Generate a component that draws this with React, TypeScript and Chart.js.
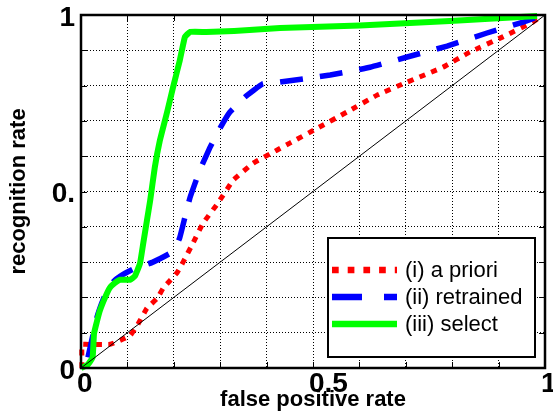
import React, { useEffect, useRef } from 'react';
import { Chart, registerables } from 'chart.js';

Chart.register(...registerables);

const LABELS = ['(i) a priori', '(ii) retrained', '(iii) select'];
const X_TITLE = 'false positive rate';
const Y_TITLE = 'recognition rate';

const APRIORI_X = [0.002, 0.002, 0.01, 0.063, 0.084, 0.106, 0.121, 0.142, 0.164, 0.177, 0.192, 0.207, 0.22, 0.241, 0.263, 0.295, 0.328, 0.371, 0.422, 0.45, 0.509, 0.573, 0.638, 0.703, 0.78, 0.838, 0.909, 0.974, 0.985];
const APRIORI_Y = [0, 0.067, 0.067, 0.067, 0.078, 0.092, 0.12, 0.169, 0.197, 0.226, 0.248, 0.27, 0.3, 0.353, 0.41, 0.467, 0.532, 0.58, 0.617, 0.637, 0.679, 0.725, 0.773, 0.81, 0.852, 0.895, 0.938, 0.98, 0.99];

const RETRAINED_X = [0.015, 0.025, 0.034, 0.045, 0.056, 0.07, 0.084, 0.112, 0.155, 0.192, 0.205, 0.213, 0.224, 0.235, 0.256, 0.278, 0.3, 0.321, 0.353, 0.392, 0.429, 0.537, 0.623, 0.703, 0.789, 0.875, 0.953, 0.983];
const RETRAINED_Y = [0.03, 0.09, 0.142, 0.185, 0.22, 0.245, 0.26, 0.28, 0.3, 0.325, 0.345, 0.37, 0.427, 0.483, 0.56, 0.625, 0.68, 0.725, 0.767, 0.805, 0.81, 0.83, 0.852, 0.881, 0.912, 0.949, 0.98, 0.994];

const SELECT_X = [0, 0.015, 0.025, 0.028, 0.034, 0.04, 0.052, 0.062, 0.073, 0.084, 0.106, 0.116, 0.127, 0.134, 0.142, 0.149, 0.159, 0.17, 0.185, 0.198, 0.213, 0.224, 0.235, 0.27, 0.33, 0.429, 0.601, 0.795, 0.983];
const SELECT_Y = [0, 0.01, 0.03, 0.097, 0.13, 0.16, 0.2, 0.227, 0.241, 0.25, 0.25, 0.26, 0.295, 0.352, 0.417, 0.474, 0.568, 0.645, 0.722, 0.793, 0.872, 0.938, 0.952, 0.952, 0.955, 0.963, 0.97, 0.983, 0.997];

const CHANCE_X = [0, 1];
const CHANCE_Y = [0, 1];

const X_TICK_LABELS: Record<string, string> = { '0': '0', '0.5': '0.5', '1': '1' };
const Y_TICK_LABELS: Record<string, string> = { '0': '0', '0.5': '0.', '1': '1' };

const FONT = '"Liberation Sans", Arial, Helvetica, sans-serif';
const LEGEND_DASH = [[6.7, 9], [30, 22], []];

const pts = (xs: number[], ys: number[]) => xs.map((x, i) => ({ x, y: ys[i] }));

const tickLabel = (map: Record<string, string>) => (v: number | string) => {
  const n = Number(v);
  const key = Object.keys(map).find((k) => Math.abs(Number(k) - n) < 1e-9);
  return key !== undefined ? map[key] : '';
};

const framePlugin = {
  id: 'matlabFrame',
  afterDatasetsDraw(chart: any) {
    const { ctx, chartArea, scales } = chart;
    const { left, right, top, bottom } = chartArea;
    const xs = scales.x;
    const ys = scales.y;
    ctx.save();
    ctx.strokeStyle = '#000';
    ctx.lineWidth = 1;
    ctx.setLineDash([]);
    ctx.beginPath();
    xs.ticks.forEach((t: any) => {
      const px = Math.round(xs.getPixelForValue(t.value)) + 0.5;
      ctx.moveTo(px, bottom);
      ctx.lineTo(px, bottom - 6);
      ctx.moveTo(px, top);
      ctx.lineTo(px, top + 6);
    });
    ys.ticks.forEach((t: any) => {
      const py = Math.round(ys.getPixelForValue(t.value)) + 0.5;
      ctx.moveTo(left, py);
      ctx.lineTo(left + 6, py);
      ctx.moveTo(right, py);
      ctx.lineTo(right - 6, py);
    });
    ctx.stroke();
    ctx.lineWidth = 2.5;
    ctx.strokeRect(left, top, right - left, bottom - top);
    ctx.restore();
  },
};

const legendPlugin = {
  id: 'boxLegend',
  afterDraw(chart: any) {
    const { ctx, chartArea } = chart;
    const w = 207;
    const h = 119;
    const right = chartArea.right - 10;
    const bottom = chartArea.bottom - 11;
    const left = right - w;
    const top = bottom - h;
    ctx.save();
    ctx.fillStyle = '#fff';
    ctx.fillRect(left, top, w, h);
    ctx.lineWidth = 2;
    ctx.strokeStyle = '#000';
    ctx.setLineDash([]);
    ctx.strokeRect(left, top, w, h);
    LABELS.forEach((label, i) => {
      const ds = chart.data.datasets[i];
      const y = top + 32 + i * 27;
      ctx.beginPath();
      ctx.setLineDash(LEGEND_DASH[i]);
      ctx.lineCap = 'butt';
      ctx.lineWidth = 6.5;
      ctx.strokeStyle = ds.borderColor;
      ctx.moveTo(left + 4, y);
      ctx.lineTo(left + 69, y);
      ctx.stroke();
      ctx.setLineDash([]);
      ctx.fillStyle = '#000';
      ctx.font = `22px ${FONT}`;
      ctx.textBaseline = 'middle';
      ctx.textAlign = 'left';
      ctx.fillText(label, left + 77, y + 1);
    });
    ctx.restore();
  },
};

export default function App() {
  const ref = useRef<HTMLCanvasElement | null>(null);

  useEffect(() => {
    if (!ref.current) return;
    const chart = new Chart(ref.current, {
      type: 'line',
      data: {
        datasets: [
          {
            label: LABELS[0],
            data: pts(APRIORI_X, APRIORI_Y),
            borderColor: '#ff0000',
            borderWidth: 5,
            borderDash: [6, 6.5],
            borderCapStyle: 'butt',
            pointRadius: 0,
            tension: 0.1,
            clip: false,
            order: 3,
          },
          {
            label: LABELS[1],
            data: pts(RETRAINED_X, RETRAINED_Y),
            borderColor: '#0000ff',
            borderWidth: 5.5,
            borderDash: [23, 17],
            borderCapStyle: 'butt',
            pointRadius: 0,
            tension: 0.1,
            clip: false,
            order: 2,
          },
          {
            label: LABELS[2],
            data: pts(SELECT_X, SELECT_Y),
            borderColor: '#00ff00',
            borderWidth: 6,
            pointRadius: 0,
            tension: 0.1,
            clip: false,
            order: 1,
          },
          {
            label: 'chance',
            data: pts(CHANCE_X, CHANCE_Y),
            borderColor: '#000000',
            borderWidth: 1,
            pointRadius: 0,
            order: 0,
          },
        ],
      } as any,
      options: {
        responsive: false,
        animation: false,
        events: [],
        layout: { padding: { left: 0, top: 15, right: 8, bottom: 0 } },
        plugins: {
          legend: { display: false },
          tooltip: { enabled: false },
        },
        scales: {
          x: {
            type: 'linear',
            min: 0,
            max: 1,
            afterFit: (s: any) => {
              s.height = 47;
              s.paddingLeft = 0;
              s.paddingRight = 0;
            },
            grid: { color: '#000', lineWidth: 1, drawTicks: false },
            border: { display: false, dash: [1, 2] },
            ticks: {
              stepSize: 0.1,
              autoSkip: false,
              maxRotation: 0,
              minRotation: 0,
              align: 'start',
              labelOffset: -4,
              padding: 0,
              color: '#000',
              font: { family: FONT, size: 28, weight: 'bold', lineHeight: 1.15 },
              callback: tickLabel(X_TICK_LABELS),
            },
            title: {
              display: true,
              text: X_TITLE,
              color: '#000',
              padding: { top: 0, bottom: 2 },
              font: { family: FONT, size: 22, weight: 'bold', lineHeight: 1.2 },
            },
          },
          y: {
            type: 'linear',
            min: 0,
            max: 1,
            afterFit: (s: any) => {
              s.width = 81;
              s.paddingTop = 0;
              s.paddingBottom = 0;
            },
            grid: { color: '#000', lineWidth: 1, drawTicks: false },
            border: { display: false, dash: [1, 2] },
            ticks: {
              stepSize: 0.1,
              autoSkip: false,
              padding: 6,
              labelOffset: 3,
              color: '#000',
              font: { family: FONT, size: 28, weight: 'bold', lineHeight: 1.15 },
              callback: tickLabel(Y_TICK_LABELS),
            },
            title: {
              display: true,
              text: Y_TITLE,
              color: '#000',
              padding: { top: 6, bottom: 0 },
              font: { family: FONT, size: 22, weight: 'bold', lineHeight: 1.2 },
            },
          },
        },
      } as any,
      plugins: [framePlugin, legendPlugin],
    });
    return () => chart.destroy();
  }, []);

  return (
    <div style={{ position: 'absolute', left: 0, top: 0, width: 553, height: 415, background: '#fff' }}>
      <canvas ref={ref} width={553} height={415} style={{ display: 'block' }} />
    </div>
  );
}
